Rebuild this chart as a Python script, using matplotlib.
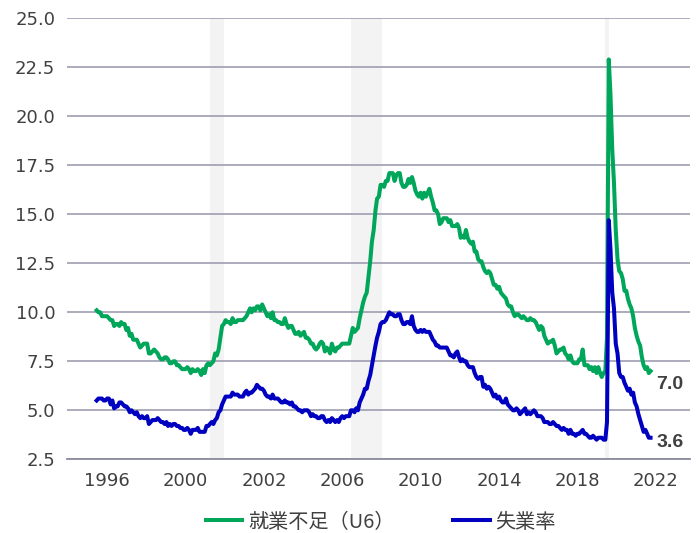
import matplotlib
matplotlib.use("Agg")
import matplotlib.pyplot as plt
import pandas as pd

plt.rcParams['font.family'] = ['DejaVu Sans', 'Noto Sans CJK JP']

# monthly rates (%), Oct 1995 - Apr 2022
u6 = [10.1, 10.0, 10.0,
      9.8, 9.8, 9.8, 9.8, 9.7, 9.6, 9.6, 9.3, 9.4, 9.4, 9.3, 9.5,          # 1996
      9.4, 9.4, 9.1, 9.2, 8.8, 8.9, 8.6, 8.6, 8.6, 8.4, 8.2, 8.3,          # 1997
      8.4, 8.4, 8.4, 7.9, 7.9, 8.0, 8.1, 8.0, 7.9, 7.7, 7.6, 7.6,          # 1998
      7.7, 7.7, 7.6, 7.4, 7.4, 7.5, 7.5, 7.3, 7.3, 7.2, 7.1, 7.1,          # 1999
      7.1, 7.2, 7.1, 6.9, 7.1, 7.0, 7.0, 7.1, 7.0, 6.8, 7.1, 6.9,          # 2000
      7.3, 7.4, 7.3, 7.4, 7.5, 7.9, 7.8, 8.1, 8.7, 9.3, 9.4, 9.6,          # 2001
      9.5, 9.5, 9.4, 9.7, 9.5, 9.5, 9.6, 9.6, 9.6, 9.6, 9.7, 9.8,          # 2002
      10.0, 10.2, 10.0, 10.2, 10.1, 10.3, 10.3, 10.1, 10.4, 10.2, 10.0, 9.8,  # 2003
      9.9, 9.7, 10.0, 9.6, 9.6, 9.5, 9.5, 9.4, 9.4, 9.7, 9.4, 9.2,         # 2004
      9.3, 9.3, 9.1, 8.9, 8.9, 9.0, 8.8, 8.9, 9.0, 8.7, 8.7, 8.6,          # 2005
      8.4, 8.4, 8.2, 8.1, 8.2, 8.4, 8.5, 8.4, 8.0, 8.2, 8.1, 7.9,          # 2006
      8.4, 8.1, 8.0, 8.2, 8.2, 8.3, 8.4, 8.4, 8.4, 8.4, 8.4, 8.8,          # 2007
      9.2, 9.0, 9.1, 9.2, 9.7, 10.1, 10.5, 10.8, 11.0, 11.8, 12.6, 13.6,   # 2008
      14.2, 15.2, 15.8, 15.9, 16.5, 16.5, 16.4, 16.7, 16.7, 17.1, 17.1, 17.1,  # 2009
      16.7, 17.0, 17.1, 17.1, 16.6, 16.4, 16.4, 16.5, 16.8, 16.6, 16.9, 16.6,  # 2010
      16.2, 16.0, 15.9, 16.1, 15.8, 16.1, 15.9, 16.1, 16.3, 15.9, 15.6, 15.2,  # 2011
      15.2, 15.0, 14.5, 14.6, 14.8, 14.8, 14.8, 14.6, 14.7, 14.4, 14.4, 14.4,  # 2012
      14.5, 14.3, 13.8, 13.9, 13.8, 14.2, 13.8, 13.6, 13.5, 13.6, 13.1, 13.1,  # 2013
      12.7, 12.6, 12.6, 12.3, 12.1, 12.0, 12.1, 12.0, 11.7, 11.4, 11.4, 11.2,  # 2014
      11.3, 11.0, 10.9, 10.8, 10.7, 10.4, 10.3, 10.3, 10.0, 9.8, 9.9, 9.9,  # 2015
      9.8, 9.7, 9.8, 9.7, 9.6, 9.6, 9.7, 9.6, 9.6, 9.5, 9.3, 9.1,          # 2016
      9.3, 9.2, 8.8, 8.6, 8.4, 8.5, 8.5, 8.6, 8.3, 7.9, 8.0, 8.1,          # 2017
      8.1, 8.2, 7.9, 7.8, 7.6, 7.8, 7.5, 7.4, 7.4, 7.4, 7.6, 7.6,          # 2018
      8.1, 7.3, 7.3, 7.3, 7.1, 7.2, 7.0, 7.2, 6.9, 7.2, 6.9, 6.7,          # 2019
      6.9, 7.0, 8.7, 22.9, 21.1, 18.3, 16.6, 14.2, 12.7, 12.1, 12.0, 11.7,  # 2020
      11.1, 11.1, 10.7, 10.4, 10.2, 9.8, 9.2, 8.8, 8.5, 8.3, 7.7, 7.3,     # 2021
      7.1, 7.2, 6.9, 7.0]                                                  # 2022

u3 = [5.5, 5.6, 5.6,
      5.6, 5.5, 5.5, 5.6, 5.6, 5.3, 5.5, 5.1, 5.2, 5.2, 5.4, 5.4,          # 1996
      5.3, 5.2, 5.2, 5.1, 4.9, 5.0, 4.9, 4.8, 4.9, 4.7, 4.6, 4.7,          # 1997
      4.6, 4.6, 4.7, 4.3, 4.4, 4.5, 4.5, 4.5, 4.6, 4.5, 4.4, 4.4,          # 1998
      4.3, 4.4, 4.2, 4.3, 4.2, 4.3, 4.3, 4.2, 4.2, 4.1, 4.1, 4.0,          # 1999
      4.0, 4.1, 4.0, 3.8, 4.0, 4.0, 4.0, 4.1, 3.9, 3.9, 3.9, 3.9,          # 2000
      4.2, 4.2, 4.3, 4.4, 4.3, 4.5, 4.6, 4.9, 5.0, 5.3, 5.5, 5.7,          # 2001
      5.7, 5.7, 5.7, 5.9, 5.8, 5.8, 5.8, 5.7, 5.7, 5.7, 5.9, 6.0,          # 2002
      5.8, 5.9, 5.9, 6.0, 6.1, 6.3, 6.2, 6.1, 6.1, 6.0, 5.8, 5.7,          # 2003
      5.7, 5.6, 5.8, 5.6, 5.6, 5.6, 5.5, 5.4, 5.4, 5.5, 5.4, 5.4,          # 2004
      5.3, 5.4, 5.2, 5.2, 5.1, 5.0, 5.0, 4.9, 5.0, 5.0, 5.0, 4.9,          # 2005
      4.7, 4.8, 4.7, 4.7, 4.6, 4.6, 4.7, 4.7, 4.5, 4.4, 4.5, 4.4,          # 2006
      4.6, 4.5, 4.4, 4.5, 4.4, 4.6, 4.7, 4.6, 4.7, 4.7, 4.7, 5.0,          # 2007
      5.0, 4.9, 5.1, 5.0, 5.4, 5.6, 5.8, 6.1, 6.1, 6.5, 6.8, 7.3,          # 2008
      7.8, 8.3, 8.7, 9.0, 9.4, 9.5, 9.5, 9.6, 9.8, 10.0, 9.9, 9.9,         # 2009
      9.8, 9.8, 9.9, 9.9, 9.6, 9.4, 9.4, 9.5, 9.5, 9.4, 9.8, 9.3,          # 2010
      9.1, 9.0, 9.0, 9.1, 9.0, 9.1, 9.0, 9.0, 9.0, 8.8, 8.6, 8.5,          # 2011
      8.3, 8.3, 8.2, 8.2, 8.2, 8.2, 8.2, 8.0, 7.8, 7.8, 7.7, 7.9,          # 2012
      8.0, 7.7, 7.5, 7.6, 7.5, 7.5, 7.3, 7.2, 7.2, 7.2, 6.9, 6.7,          # 2013
      6.6, 6.7, 6.7, 6.2, 6.3, 6.1, 6.2, 6.1, 5.9, 5.7, 5.8, 5.6,          # 2014
      5.7, 5.5, 5.4, 5.4, 5.6, 5.3, 5.2, 5.1, 5.0, 5.0, 5.1, 5.0,          # 2015
      4.8, 4.9, 5.0, 5.1, 4.8, 4.9, 4.8, 4.9, 5.0, 4.9, 4.7, 4.7,          # 2016
      4.7, 4.6, 4.4, 4.4, 4.4, 4.3, 4.3, 4.4, 4.3, 4.2, 4.2, 4.1,          # 2017
      4.0, 4.1, 4.0, 4.0, 3.8, 4.0, 3.8, 3.8, 3.7, 3.8, 3.8, 3.9,          # 2018
      4.0, 3.8, 3.8, 3.7, 3.6, 3.6, 3.7, 3.6, 3.5, 3.6, 3.6, 3.6,          # 2019
      3.5, 3.5, 4.4, 14.7, 13.2, 11.0, 10.2, 8.4, 7.9, 6.9, 6.7, 6.7,      # 2020
      6.4, 6.2, 6.0, 6.1, 5.8, 5.9, 5.4, 5.2, 4.8, 4.5, 4.2, 3.9,          # 2021
      4.0, 3.8, 3.6, 3.6]                                                  # 2022

recessions = [("2001-03-01", "2001-11-01"),
              ("2007-12-01", "2009-06-01"),
              ("2020-02-01", "2020-04-01")]

tick_labels = ["1996", "2000", "2002", "2006", "2010", "2014", "2018", "2022"]
y_ticks = [2.5, 5.0, 7.5, 10.0, 12.5, 15.0, 17.5, 20.0, 22.5, 25.0]

months = pd.date_range("1995-10-01", periods=len(u6), freq="MS")
tick_pos = pd.date_range("1996-04-01", periods=len(tick_labels), freq="45MS")

green = "#00a65a"
blue = "#0000c0"
txt = "#404040"

fig = plt.figure(figsize=(6.99, 5.33), dpi=100)
ax = fig.add_axes([0.0959, 0.1383, 0.8911, 0.8274])

for a, b in recessions:
    ax.axvspan(pd.Timestamp(a), pd.Timestamp(b), color="#f3f3f3", lw=0, zorder=0)

ax.plot(months, u6, color=green, lw=2.9, label="就業不足（U6）", zorder=3)
ax.plot(months, u3, color=blue, lw=2.9, label="失業率", zorder=4)

ax.set_ylim(2.5, 25.0)
ax.set_yticks(y_ticks, [f"{v:.1f}" for v in y_ticks])
ax.set_xlim(pd.Timestamp("1994-05-01"), pd.Timestamp("2024-02-18"))
ax.set_xticks(tick_pos, tick_labels)

ax.yaxis.grid(True, color="#9d9db0", lw=1.2)
ax.set_axisbelow(True)
for s in ["top", "right", "left"]:
    ax.spines[s].set_visible(False)
ax.spines["bottom"].set_color("#8c8ca0")
ax.spines["bottom"].set_linewidth(1.3)
ax.tick_params(axis="y", length=0, pad=8.5, labelsize=13, labelcolor=txt)
ax.tick_params(axis="x", length=0, pad=9, labelsize=13, labelcolor=txt)

# end-of-series value labels
ax.annotate(f"{u6[-1]:.1f}", (months[-1], u6[-1]), xytext=(14, -9.6),
            textcoords="offset points", ha="center", va="center",
            fontsize=14, fontweight="bold", color=txt, family="Liberation Sans")
ax.annotate(f"{u3[-1]:.1f}", (months[-1], u3[-1]), xytext=(14, -3.5),
            textcoords="offset points", ha="center", va="center",
            fontsize=14, fontweight="bold", color=txt, family="Liberation Sans")

fig.legend(loc="center", bbox_to_anchor=(381 / 699, 1 - 522 / 533), ncol=2,
           frameon=False, handlelength=1.8, handletextpad=0.3, columnspacing=2.9,
           prop={"family": ["Noto Sans CJK JP"], "size": 14.5}, labelcolor=txt)

fig.savefig("out.png", dpi=100)
